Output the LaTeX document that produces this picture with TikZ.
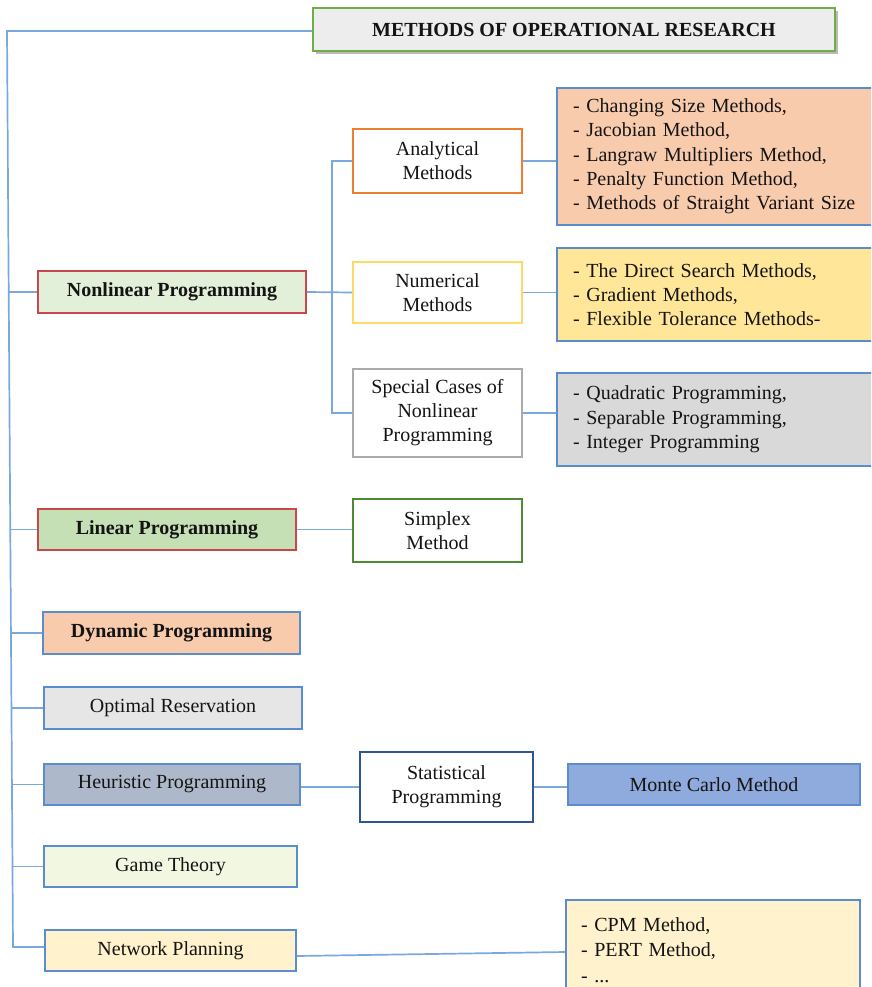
\documentclass[tikz,border=0pt]{standalone}
\usepackage{fontspec}
\setmainfont{Liberation Serif}
\usetikzlibrary{calc,shadows}

\definecolor{link}{RGB}{120,168,220}
\definecolor{edgeblue}{RGB}{91,140,205}
\definecolor{nlpfill}{HTML}{E2EFD9}
\definecolor{lpfill}{HTML}{C5E0B4}
\definecolor{redline}{HTML}{C9474A}
\definecolor{orangeline}{HTML}{ED7D31}
\definecolor{yellowline}{HTML}{FFD966}
\definecolor{grayline}{HTML}{AAAAAA}
\definecolor{greenline}{HTML}{4E8A34}
\definecolor{titleline}{HTML}{70AD47}
\definecolor{titlefill}{HTML}{EDEDED}
\definecolor{peach}{HTML}{F8CBAD}
\definecolor{lightyellow}{HTML}{FFE699}
\definecolor{midgray}{HTML}{D9D9D9}
\definecolor{palegray}{HTML}{E7E6E6}
\definecolor{slate}{HTML}{ADB9CA}
\definecolor{navy}{HTML}{2F5597}
\definecolor{cornflower}{HTML}{8FAADC}
\definecolor{paleolive}{HTML}{F2F7E2}
\definecolor{cream}{HTML}{FFF2CC}
\definecolor{ink}{HTML}{141414}

\tikzset{
  every node/.style={text=ink},
  box/.style={draw, line width=1.9pt, inner sep=0pt, align=center,
    font=\fontsize{20}{24}\selectfont},
  boldbox/.style={box, font=\fontsize{20}{24}\selectfont\bfseries},
  listbox/.style={draw=edgeblue, line width=1.9pt, inner xsep=16pt, inner ysep=0pt,
    align=left, font=\fontsize{20}{24.3}\selectfont},
  link/.style={draw=link, line width=1.7pt},
}

\begin{document}
\begin{tikzpicture}[x=1pt,y=-1pt]
  \clip (0,0) rectangle (871,987);
  \fill[white] (0,0) rectangle (871,987);

  % root
  \node[boldbox, draw=titleline, fill=titlefill, minimum width=522, minimum height=43,
        drop shadow={shadow xshift=3pt, shadow yshift=-3pt, fill=black!45, opacity=.6}]
        (title) at (574,29.5) {METHODS OF OPERATIONAL RESEARCH};

  % nonlinear programming branch
  \node[boldbox, draw=redline, fill=nlpfill, minimum width=268, minimum height=42]
        (nlp) at (172,292) {Nonlinear Programming};
  \node[box, draw=orangeline, fill=white, minimum width=169, minimum height=64]
        (ana) at (437.5,161) {Analytical\\Methods};
  \node[box, draw=yellowline, fill=white, minimum width=169, minimum height=61]
        (num) at (437.5,292.5) {Numerical\\Methods};
  \node[box, draw=grayline, fill=white, minimum width=169, minimum height=88]
        (spc) at (437.5,413) {Special Cases of\\Nonlinear\\Programming};
  \node[listbox, fill=peach, text width=311, minimum height=137]
        (lA) at (728.5,156.5) {- Changing Size Methods,\\- Jacobian Method,\\- Langraw Multipliers Method,\\- Penalty Function Method,\\- Methods of Straight Variant Size};
  \node[listbox, fill=lightyellow, text width=311, minimum height=93]
        (lB) at (728.5,294.5) {- The Direct Search Methods,\\- Gradient Methods,\\- Flexible Tolerance Methods-};
  \node[listbox, fill=midgray, text width=311, minimum height=93]
        (lC) at (728.5,419.5) {- Quadratic Programming,\\- Separable Programming,\\- Integer Programming};

  % linear programming branch
  \node[boldbox, draw=redline, fill=lpfill, minimum width=258, minimum height=41]
        (lp) at (167,529.5) {Linear Programming};
  \node[box, draw=greenline, fill=white, minimum width=169, minimum height=63]
        (sim) at (437.5,530.5) {Simplex\\Method};

  % remaining methods
  \node[boldbox, draw=edgeblue, fill=peach, minimum width=257, minimum height=42]
        (dp) at (171.5,633) {Dynamic Programming};
  \node[box, draw=edgeblue, fill=palegray, minimum width=258, minimum height=42]
        (opt) at (173,708) {Optimal Reservation};
  \node[box, draw=edgeblue, fill=slate, minimum width=256, minimum height=41]
        (heu) at (172,784.5) {Heuristic Programming};
  \node[box, draw=navy, fill=white, minimum width=173, minimum height=70]
        (stat) at (446.5,787) {Statistical\\Programming};
  \node[box, draw=edgeblue, fill=cornflower, minimum width=292, minimum height=41]
        (mc) at (714,784.5) {Monte Carlo Method};
  \node[box, draw=edgeblue, fill=paleolive, minimum width=253, minimum height=41]
        (gt) at (170.5,866.5) {Game Theory};
  \node[box, draw=edgeblue, fill=cream, minimum width=251, minimum height=41]
        (np) at (170.5,950.5) {Network Planning};
  \node[listbox, fill=cream, inner xsep=15pt, text width=264, minimum height=100,
        font=\fontsize{20}{25.5}\selectfont]
        (cpm) at (713,950) {- CPM Method,\\- PERT Method,\\- ...};

  % trunk on the left
  \coordinate (t0) at (7,31);
  \coordinate (t1) at (13,947);
  \coordinate (jnlp) at (8.7,292);
  \coordinate (jlp) at (10.3,529.5);
  \coordinate (jdp) at (11,633);
  \coordinate (jopt) at (11.4,708);
  \coordinate (jheu) at (11.9,784.5);
  \coordinate (jgt) at (12.5,866.5);

  \draw[link] (title.west |- t0) -- (t0) -- (t1) -- (t1 -| np.west);
  \draw[link] (jnlp) -- (nlp.west);
  \draw[link] (jlp) -- (lp.west);
  \draw[link] (jdp) -- (dp.west);
  \draw[link] (jopt) -- (opt.west);
  \draw[link] (jheu) -- (heu.west);
  \draw[link] (jgt) -- (gt.west);

  % nonlinear sub-tree
  \draw[link] (nlp.east) -- (num.west);
  \draw[link] (ana.west) -- ++(-20,0) |- (spc.west);
  \draw[link] (ana.east) -- (ana.east -| lA.west);
  \draw[link] (num.east) -- (num.east -| lB.west);
  \draw[link] (spc.east) -- (spc.east -| lC.west);

  % other sub-branches
  \draw[link] (lp.east) -- (lp.east -| sim.west);
  \draw[link] (stat.west -| heu.east) -- (stat.west);
  \draw[link] (stat.east) -- (stat.east -| mc.west);
  \draw[link] ($(np.east)+(0,5.5)$) -- ($(cpm.west)+(0,2)$);
\end{tikzpicture}
\end{document}
